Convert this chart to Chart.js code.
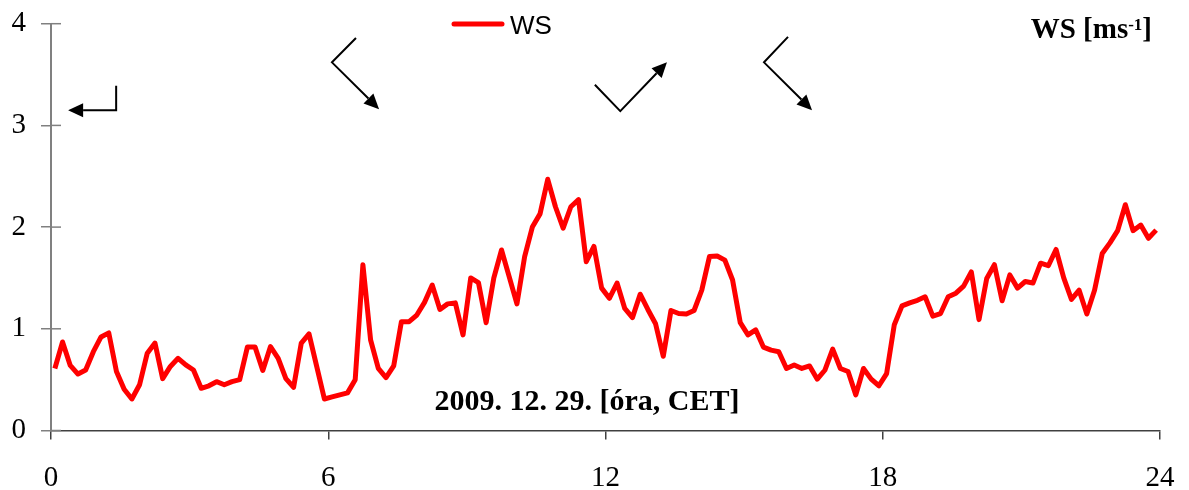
<!DOCTYPE html>
<html>
<head>
<meta charset="utf-8">
<script src="https://cdn.jsdelivr.net/npm/chart.js@4.4.0/dist/chart.umd.min.js"></script>
<style>
  html, body { margin: 0; padding: 0; background: #fff; }
  canvas { display: block; }
</style>
</head>
<body>
<canvas id="wsChart" width="1189" height="490"></canvas>
<script>
// Wind speed, 10-minute means, 2009. 12. 29. (one row = 2 hours)
var wsValues = [
  0.61, 0.87, 0.64, 0.555, 0.595, 0.775, 0.92, 0.96, 0.58, 0.405, 0.31, 0.45,
  0.76, 0.86, 0.51, 0.63, 0.71, 0.645, 0.595, 0.415, 0.44, 0.48, 0.45, 0.48,
  0.50, 0.82, 0.82, 0.59, 0.825, 0.71, 0.51, 0.425, 0.86, 0.95, 0.63, 0.31,
  0.33, 0.35, 0.37, 0.50, 1.63, 0.89, 0.61, 0.52, 0.635, 1.07, 1.07, 1.135,
  1.26, 1.43, 1.19, 1.245, 1.255, 0.94, 1.50, 1.455, 1.06, 1.50, 1.775, 1.51,
  1.245, 1.71, 2.0, 2.13, 2.47, 2.20, 1.99, 2.20, 2.27, 1.66, 1.81, 1.40,
  1.30, 1.45, 1.20, 1.11, 1.34, 1.19, 1.05, 0.73, 1.18, 1.15, 1.145, 1.18,
  1.38, 1.71, 1.715, 1.675, 1.48, 1.06, 0.94, 0.99, 0.82, 0.79, 0.775, 0.61,
  0.645, 0.61, 0.635, 0.505, 0.595, 0.80, 0.61, 0.58, 0.35, 0.61, 0.505, 0.44,
  0.56, 1.04, 1.225, 1.255, 1.28, 1.315, 1.125, 1.15, 1.315, 1.35, 1.42, 1.56,
  1.09, 1.495, 1.63, 1.275, 1.53, 1.40, 1.465, 1.45, 1.645, 1.62, 1.78, 1.50,
  1.29, 1.38, 1.145, 1.38, 1.74, 1.845, 1.965, 2.22, 1.965, 2.02, 1.89, 1.97
];
var firstHour = 5 / 60;   // first mean is centred on 00:05
var stepHour = 10 / 60;
var hourTicks = [0, 6, 12, 18, 24];
var wsTicks = [0, 1, 2, 3, 4];

// wind direction symbols as [hour, ws] points; arrowhead on the last point
var windArrows = [
  [[1.41, 3.39], [1.41, 3.15], [0.37, 3.15]],
  [[6.60, 3.86], [6.08, 3.62], [7.10, 3.16]],
  [[11.77, 3.40], [12.32, 3.14], [13.33, 3.62]],
  [[15.95, 3.87], [15.43, 3.62], [16.47, 3.15]]
];
var xTitle = '2009. 12. 29. [óra, CET]';

var points = wsValues.map(function (v, i) {
  return { x: firstHour + i * stepHour, y: v };
});

var serif = 'Liberation Serif, Times New Roman, serif';

function drawArrow(ctx, pts) {
  var n = pts.length;
  var tip = pts[n - 1], prev = pts[n - 2];
  var ang = Math.atan2(tip[1] - prev[1], tip[0] - prev[0]);
  var len = 15, half = 7;
  var bx = tip[0] - len * Math.cos(ang), by = tip[1] - len * Math.sin(ang);
  ctx.beginPath();
  ctx.moveTo(pts[0][0], pts[0][1]);
  for (var i = 1; i < n - 1; i++) ctx.lineTo(pts[i][0], pts[i][1]);
  ctx.lineTo(bx, by);
  ctx.stroke();
  ctx.beginPath();
  ctx.moveTo(tip[0], tip[1]);
  ctx.lineTo(bx - half * Math.sin(ang), by + half * Math.cos(ang));
  ctx.lineTo(bx + half * Math.sin(ang), by - half * Math.cos(ang));
  ctx.closePath();
  ctx.fill();
}

// keep the plot box where the layout padding puts it
function noLabelPadding(axis) {
  axis.paddingTop = 0;
  axis.paddingBottom = 0;
  axis.paddingLeft = 0;
  axis.paddingRight = 0;
}

var decorations = {
  id: 'decorations',
  afterDraw: function (chart) {
    var ctx = chart.ctx, xs = chart.scales.x, ys = chart.scales.y, area = chart.chartArea;
    ctx.save();

    // inner half of the y ticks
    ctx.strokeStyle = '#808080';
    ctx.lineWidth = 1.5;
    ys.ticks.forEach(function (t) {
      var py = ys.getPixelForValue(t.value);
      ctx.beginPath();
      ctx.moveTo(area.left, py);
      ctx.lineTo(area.left + 10, py);
      ctx.stroke();
    });

    // wind direction arrows
    ctx.strokeStyle = '#000';
    ctx.fillStyle = '#000';
    ctx.lineWidth = 2;
    windArrows.forEach(function (a) {
      drawArrow(ctx, a.map(function (p) {
        return [xs.getPixelForValue(p[0]), ys.getPixelForValue(p[1])];
      }));
    });

    // legend
    var ds = chart.data.datasets[0];
    ctx.strokeStyle = ds.borderColor;
    ctx.lineWidth = 5;
    ctx.lineCap = 'round';
    ctx.beginPath();
    ctx.moveTo(454, 24);
    ctx.lineTo(502, 24);
    ctx.stroke();
    ctx.fillStyle = '#000';
    ctx.font = '26px Liberation Sans, Arial, sans-serif';
    ctx.textBaseline = 'alphabetic';
    ctx.textAlign = 'left';
    ctx.fillText(ds.label, 510, 34);

    // unit label, top right
    var big = 'bold 29px ' + serif, small = 'bold 17px ' + serif;
    ctx.font = big;
    var w1 = ctx.measureText('WS [ms').width, w3 = ctx.measureText(']').width;
    ctx.font = small;
    var w2 = ctx.measureText('-1').width;
    var x0 = area.right - 8 - (w1 + w2 + w3);
    ctx.font = big;
    ctx.fillText('WS [ms', x0, 38);
    ctx.font = small;
    ctx.fillText('-1', x0 + w1, 30);
    ctx.font = big;
    ctx.fillText(']', x0 + w1 + w2, 38);

    // x axis title inside the plot
    ctx.font = 'bold 30px ' + serif;
    ctx.textAlign = 'center';
    ctx.fillText(xTitle, xs.getPixelForValue(11.6), 410);

    ctx.restore();
  }
};

var ctx = document.getElementById('wsChart');

var chart = new Chart(ctx, {
  type: 'line',
  data: {
    datasets: [{
      label: 'WS',
      data: points,
      borderColor: '#ff0000',
      borderWidth: 5,
      borderJoinStyle: 'round',
      pointRadius: 0,
      tension: 0,
      fill: false
    }]
  },
  options: {
    responsive: false,
    animation: false,
    events: [],
    layout: { padding: { top: 23.7, right: 29, left: 0, bottom: 0 } },
    plugins: {
      legend: { display: false },
      tooltip: { enabled: false }
    },
    scales: {
      x: {
        type: 'linear',
        min: 0,
        max: 24,
        afterBuildTicks: function (axis) {
          axis.ticks = hourTicks.map(function (v) { return { value: v }; });
        },
        afterFit: function (axis) {
          axis.height = 59.5;
          noLabelPadding(axis);
        },
        border: { color: '#404040', width: 1.5 },
        grid: { drawOnChartArea: false, tickLength: 9, color: '#404040', lineWidth: 1.5 },
        ticks: {
          color: '#000',
          padding: 21,
          maxRotation: 0,
          font: { family: serif, size: 29 }
        }
      },
      y: {
        min: 0,
        max: 4,
        afterBuildTicks: function (axis) {
          axis.ticks = wsTicks.map(function (v) { return { value: v }; });
        },
        afterFit: function (axis) {
          axis.width = 51;
          noLabelPadding(axis);
        },
        border: { color: '#808080', width: 2 },
        grid: { drawOnChartArea: false, tickLength: 10, color: '#808080', lineWidth: 1.5 },
        ticks: {
          color: '#000',
          padding: 15,
          font: { family: serif, size: 29 }
        }
      }
    }
  },
  plugins: [decorations]
});
</script>
</body>
</html>
